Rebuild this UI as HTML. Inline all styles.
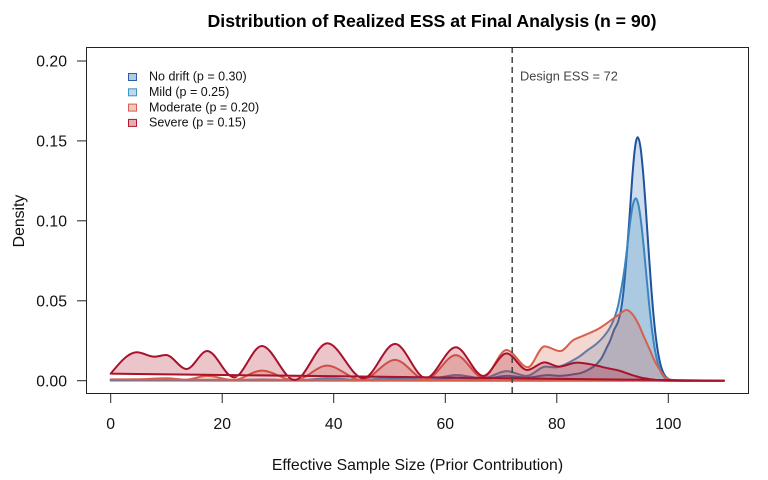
<!DOCTYPE html>
<html><head><meta charset="utf-8">
<style>
html,body{margin:0;padding:0;background:#fff;}
svg{display:block;font-family:"Liberation Sans",Arial,sans-serif;}
</style></head><body>
<svg id="s" width="768" height="480" viewBox="0 0 768 480" xmlns="http://www.w3.org/2000/svg">
<rect width="768" height="480" fill="#fff"/>
<g id="curves"></g>
<line x1="512.2" y1="47" x2="512.2" y2="393" stroke="#444" stroke-width="1.5" stroke-dasharray="6,4"/>
<text x="520" y="80.5" font-size="12.8" fill="#444">Design ESS = 72</text>
<rect x="86.5" y="47.5" width="662" height="346" fill="none" stroke="#222" stroke-width="1"/>
<g stroke="#222" stroke-width="1">
<line x1="77" y1="61" x2="86" y2="61"/>
<line x1="77" y1="140.9" x2="86" y2="140.9"/>
<line x1="77" y1="220.8" x2="86" y2="220.8"/>
<line x1="77" y1="300.8" x2="86" y2="300.8"/>
<line x1="77" y1="380.7" x2="86" y2="380.7"/>
<line x1="110.7" y1="393" x2="110.7" y2="403"/>
<line x1="222.2" y1="393" x2="222.2" y2="403"/>
<line x1="333.7" y1="393" x2="333.7" y2="403"/>
<line x1="445.3" y1="393" x2="445.3" y2="403"/>
<line x1="556.8" y1="393" x2="556.8" y2="403"/>
<line x1="668.3" y1="393" x2="668.3" y2="403"/>
</g>
<g font-size="15.8" fill="#111" text-anchor="end">
<text x="67" y="66.7">0.20</text>
<text x="67" y="146.6">0.15</text>
<text x="67" y="226.5">0.10</text>
<text x="67" y="306.5">0.05</text>
<text x="67" y="386.4">0.00</text>
</g>
<g font-size="15.8" fill="#111" text-anchor="middle">
<text x="110.7" y="429">0</text>
<text x="222.2" y="429">20</text>
<text x="333.7" y="429">40</text>
<text x="445.3" y="429">60</text>
<text x="556.8" y="429">80</text>
<text x="668.3" y="429">100</text>
<text x="417.5" y="470">Effective Sample Size (Prior Contribution)</text>
<text transform="translate(24,221) rotate(-90)" x="0" y="0">Density</text>
</g>
<text x="432" y="27" font-size="17.7" font-weight="bold" fill="#000" text-anchor="middle" textLength="449" lengthAdjust="spacingAndGlyphs">Distribution of Realized ESS at Final Analysis (n = 90)</text>
<g>
<rect x="128.5" y="73.5" width="8" height="7" fill="rgba(33,102,172,0.35)" stroke="#2a5fa5" stroke-width="1"/>
<rect x="128.5" y="88.8" width="8" height="7" fill="rgba(67,147,195,0.35)" stroke="#4393c3" stroke-width="1"/>
<rect x="128.5" y="104.1" width="8" height="7" fill="rgba(214,96,77,0.35)" stroke="#d6604d" stroke-width="1"/>
<rect x="128.5" y="119.4" width="8" height="7" fill="rgba(178,24,43,0.35)" stroke="#b2182b" stroke-width="1"/>
</g>
<g font-size="12.5" fill="#111">
<text x="149" y="80.7">No drift (p = 0.30)</text>
<text x="149" y="96">Mild (p = 0.25)</text>
<text x="149" y="111.3">Moderate (p = 0.20)</text>
<text x="149" y="126.6">Severe (p = 0.15)</text>
</g>
</svg>
<script>
(function(){
var X=function(v){return 110.7+5.576*v;}, Y=function(d){return 380.7-1598.5*d;};
function mono(pts){
  var n=pts.length,xs=[],ys=[],i;
  for(i=0;i<n;i++){xs.push(X(pts[i][0]));ys.push(Y(pts[i][1]));}
  var dx=[],sl=[];
  for(i=0;i<n-1;i++){dx[i]=xs[i+1]-xs[i];sl[i]=(ys[i+1]-ys[i])/dx[i];}
  var m=new Array(n);
  for(i=1;i<n-1;i++){
    var s0=sl[i-1],s1=sl[i],h0=dx[i-1],h1=dx[i];
    var p=(s0*h1+s1*h0)/(h0+h1);
    var v=(Math.sign(s0)+Math.sign(s1))*Math.min(Math.abs(s0),Math.abs(s1),0.5*Math.abs(p));
    m[i]=v||0;
  }
  m[0]=(3*sl[0]-m[1])/2; m[n-1]=(3*sl[n-2]-m[n-2])/2;
  var d='M'+xs[0].toFixed(2)+','+ys[0].toFixed(2);
  for(i=0;i<n-1;i++){
    var h=dx[i]/3;
    d+='C'+(xs[i]+h).toFixed(2)+','+(ys[i]+m[i]*h).toFixed(2)+' '+(xs[i+1]-h).toFixed(2)+','+(ys[i+1]-m[i+1]*h).toFixed(2)+' '+xs[i+1].toFixed(2)+','+ys[i+1].toFixed(2);
  }
  return d+'Z';
}
var nod=[[0,0.0002],[10,0.0002],[20,0.0002],[27,0.0004],[33,0.0002],[39,0.0009],[45,0.0004],[51,0.0013],[56.5,0.0005],[62,0.0018],[66.8,0.0010],[71,0.0030],[74.7,0.0020],[78.5,0.0035],[80.5,0.0030],[83,0.0040],[84.5,0.0050],[86,0.0075],[87,0.0100],[88,0.0140],[89,0.0210],[89.5,0.0245],[90.3,0.0320],[91,0.0370],[91.5,0.0440],[92,0.0570],[92.5,0.0770],[93,0.1000],[93.5,0.1254],[94,0.1450],[94.5,0.1523],[95,0.1463],[95.5,0.1296],[96,0.1059],[96.5,0.0799],[97,0.0555],[97.5,0.0356],[98,0.0211],[98.5,0.0115],[99,0.0058],[99.5,0.0027],[100.5,0.0005],[102,0.00003],[110,0]];
var mild=[[0,0.0001],[10,0.0002],[17,0.0004],[22,0.0002],[27,0.0008],[33,0.0002],[39,0.0015],[45,0.0005],[51,0.0020],[56.5,0.0007],[62,0.0036],[66.8,0.0015],[71,0.0060],[74.6,0.0030],[78,0.0088],[79.6,0.0083],[81,0.0095],[82.5,0.0120],[84.2,0.0155],[85.5,0.0190],[87.1,0.0230],[88.5,0.0280],[89.5,0.0330],[90.3,0.0390],[91,0.0470],[91.5,0.0560],[92.15,0.0700],[92.65,0.0840],[93.15,0.0990],[93.65,0.1100],[94.15,0.1141],[94.65,0.1099],[95.15,0.0983],[95.65,0.0816],[96.15,0.0628],[96.65,0.0449],[97.15,0.0298],[97.65,0.0183],[98.15,0.0105],[98.65,0.0056],[99.15,0.0027],[100.15,0.0005],[102,0.00003],[110,0]];
var mod=[[0,0.0008],[5,0.0009],[10,0.0015],[13.5,0.0007],[17.3,0.0030],[22,0.0004],[27.1,0.0063],[33,0.0002],[38.8,0.0094],[45,0.0005],[51,0.0130],[56.5,0.0007],[61.9,0.0160],[66.8,0.0020],[71,0.0192],[74.8,0.0084],[77.8,0.0215],[80.6,0.0185],[83,0.0255],[84.5,0.0278],[86,0.0300],[87.5,0.0325],[89,0.0360],[91,0.0410],[92.5,0.0442],[93.7,0.0410],[94.7,0.0350],[95.7,0.0270],[96.7,0.0192],[97.6,0.0120],[98.5,0.0067],[99.7,0.0015],[101,0.0002],[103,0],[110,0]];
var sev=[[0,0.0044],[4.7,0.0178],[7.8,0.0150],[9.9,0.0161],[13.6,0.0073],[17.3,0.0186],[22.1,0.0021],[27.1,0.0217],[33.0,0.0004],[38.85,0.0234],[45.3,0.0015],[51,0.0230],[56.5,0.0016],[61.9,0.0209],[66.8,0.0030],[71,0.0171],[74.7,0.0067],[77.8,0.0115],[80.4,0.0088],[83.6,0.0113],[86.5,0.0100],[89,0.0079],[91.3,0.0062],[93.1,0.0040],[94.8,0.0022],[96.3,0.0012],[98,0.0004],[100,0.0001],[103,0],[110,0]];
var series=[[nod,'rgba(33,102,172,0.22)','#1f539e'],[mild,'rgba(67,147,195,0.25)','#3b85bf'],[mod,'rgba(214,96,77,0.25)','#d6604d'],[sev,'rgba(178,24,43,0.25)','#a8122c']];
var g=document.getElementById('curves'),ns='http://www.w3.org/2000/svg';
series.forEach(function(s){
  var p=document.createElementNS(ns,'path');
  p.setAttribute('d',mono(s[0]));
  p.setAttribute('fill',s[1]);
  p.setAttribute('stroke',s[2]);
  p.setAttribute('stroke-width','2');
  p.setAttribute('stroke-linejoin','round');
  g.appendChild(p);
});
})();
</script>
</body></html>
